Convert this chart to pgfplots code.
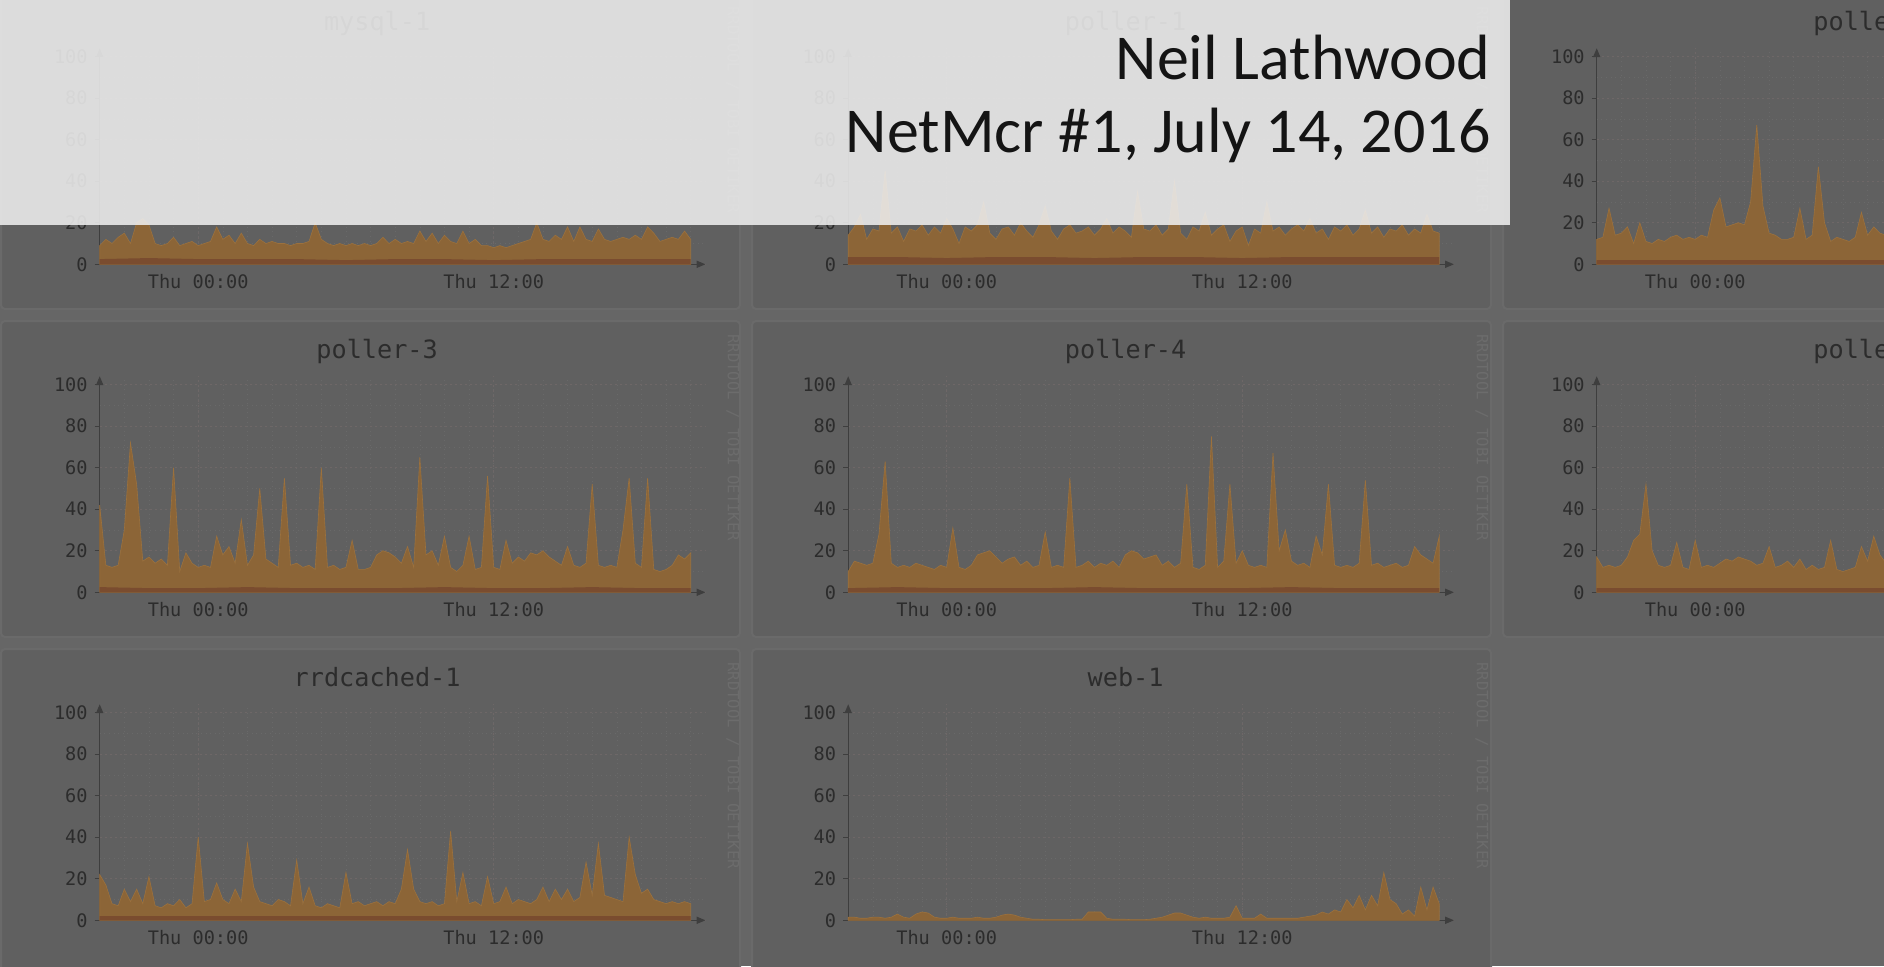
\documentclass[border=0pt]{standalone}
\usepackage{fontspec}
\setmainfont{Carlito}
\newfontfamily\rrd{DejaVu Sans Mono}
\usepackage{pgfplots}
\usepackage{pgfplotstable}
\pgfplotsset{compat=1.18}
\usetikzlibrary{arrows.meta}

\definecolor{slidebg}{HTML}{666666}
\definecolor{panelbg}{HTML}{606060}
\definecolor{panelrim}{HTML}{6A6A6A}
\definecolor{cpuarea}{HTML}{8C6537}
\definecolor{cpuedge}{HTML}{9C713D}
\definecolor{cpubase}{HTML}{7A4C2F}
\definecolor{ink}{HTML}{2C2C2C}
\definecolor{axisc}{HTML}{3E3E3E}
\definecolor{gridmaj}{HTML}{6E6767}
\definecolor{gridmin}{HTML}{696969}
\definecolor{wmark}{HTML}{6C6C6C}
\definecolor{banner}{HTML}{EEEEEE}

% CPU usage, one column per host, sampled every 15 minutes (hours from Thu 00:00)
\pgfplotstableread{
h     my  p1  p3  p4  rc  w1
-4    9   14  42  10  22  1.5
-3.75 12  18  13  15  17  1.5
-3.5  10  24  12  14  8   1
-3.25 13  12  13  13  7   1
-3    15  17  30  14  15  1.5
-2.75 10  16  72  28  9   1.5
-2.5  20  45  52  63  15  1
-2.25 22  15  15  14  8   1.5
-2    19  18  17  12  21  3
-1.75 10  11  14  13  7   1.5
-1.5  9   17  16  12  6   1
-1.25 10  16  13  14  8   3
-1    13  19  60  13  7   4
-0.75 9   14  10  12  10  3.5
-0.5  10  18  19  11  6   1.5
-0.25 11  15  14  13  8   1
0     9   22  12  12  40  1
0.25  10  17  13  31  9   1.5
0.5   11  10  12  12  10  1
0.75  18  18  27  11  18  1
1     12  16  18  13  10  1
1.25  14  19  22  18  8   1.5
1.5   10  30  14  19  15  1
1.75  15  15  35  20  9   1
2     10  12  13  17  37  1.5
2.25  9   17  18  14  16  2.5
2.5   12  18  50  16  9   3
2.75  10  14  16  17  8   2.5
3     11  20  14  13  7   1.5
3.25  10  16  12  15  10  1
3.5   10  13  55  12  9   0.5
3.75  9   19  13  13  7   0.5
4     10  28  14  29  29  0.3
4.25  10  16  12  12  8   0.3
4.5   11  12  13  13  16  0.3
4.75  20  17  11  12  7   0.3
5     12  19  60  55  6   0.3
5.25  10  15  12  12  8   0.5
5.5   9   16  13  13  7   0.5
5.75  10  18  11  15  6   4
6     9   14  12  12  23  4
6.25  10  17  25  14  8   4
6.5   9   22  11  13  9   1
6.75  10  15  11  15  7   0.5
7     9   18  12  12  8   0.5
7.25  10  16  18  18  9   0.5
7.5   13  13  20  20  7   0.3
7.75  10  35  19  19  9   0.3
8     12  17  17  16  8   0.3
8.25  10  16  14  17  15  0.5
8.5   11  19  22  18  34  1
8.75  10  14  12  13  15  1.5
9     16  17  65  15  9   2.5
9.25  11  40  18  12  8   3.5
9.5   15  15  20  14  9   3.5
9.75  10  12  13  52  7   2.5
10    14  18  27  12  8   1.5
10.25 11  16  12  11  43  1
10.5  10  25  10  13  9   1.5
10.75 16  14  13  75  23  1
11    10  17  27  12  8   1
11.25 12  19  11  15  9   1
11.5  9   11  12  52  7   1.5
11.75 9   16  56  14  21  7
12    8   18  12  20  8   1
12.25 9   9   11  13  9   1
12.5  8   17  25  12  16  1
12.75 9   15  14  13  8   3
13    10  30  17  12  10  1
13.25 11  16  15  67  9   1
13.5  12  18  19  20  8   1
13.75 20  14  18  30  10  1
14    12  17  20  15  16  1
14.25 11  19  17  13  9   1
14.5  14  16  15  14  15  1.5
14.75 12  22  13  12  10  2
15    18  15  22  27  15  2.5
15.25 11  17  13  18  9   4
15.5  18  12  12  52  11  3
15.75 12  18  14  13  28  5
16    11  16  52  12  12  4
16.25 17  19  13  13  37  10
16.5  12  14  12  12  12  6
16.75 11  17  13  14  11  12
17    12  26  12  54  10  5
17.25 13  15  30  13  9   12
17.5  12  18  55  14  40  7
17.75 14  13  14  12  22  23
18    12  17  12  13  13  10
18.25 18  16  55  14  15  8
18.5  15  19  11  12  10  3
18.75 11  14  10  13  9   5
19    12  17  11  22  8   2
19.25 13  15  13  18  9   16
19.5  12  24  18  16  8   5
19.75 16  16  16  14  9   16
20    12  15  19  27  8   8
}\daytab

% right-hand column is cut off by the slide, only the morning is visible
\pgfplotstableread{
h     p2  p5
-4    12  17
-3.75 13  12
-3.5  27  13
-3.25 14  12
-3    15  13
-2.75 18  17
-2.5  10  25
-2.25 20  28
-2    11  52
-1.75 10  20
-1.5  12  13
-1.25 11  12
-1    13  13
-0.75 14  24
-0.5  12  12
-0.25 13  11
0     12  25
0.25  14  12
0.5   13  13
0.75  26  12
1     32  14
1.25  18  16
1.5   19  15
1.75  20  17
2     19  16
2.25  30  15
2.5   67  13
2.75  28  14
3     15  22
3.25  14  12
3.5   12  13
3.75  12  15
4     13  12
4.25  27  16
4.5   12  11
4.75  14  13
5     47  11
5.25  20  12
5.5   11  25
5.75  13  11
6     12  10
6.25  11  11
6.5   13  12
6.75  25  22
7     14  15
7.25  18  27
7.5   15  18
7.75  14  14
8     16  13
8.25  13  15
8.5   15  14
}\morningtab

% system share (dark band at the bottom)
\pgfplotstableread{
h   my  p1  p2  p3  p4  p5  rc
-4  2.5 3.5 2   2.5 2   2   2
-2  3   3.5 2   2   2.5 2   2
0   2.5 3   2   2   2   2   2
2   2.5 3.5 2   2.5 2   2   2
4   2.5 3.5 2   2   2   2   2
6   2   3   2   2   2.5 2   2
8   2.5 3.5 2   2   2   2   2
10  2.5 3.5 2   2.5 2   2   2
12  2   3   2   2   2   2   2
14  2.5 3.5 2   2   2.5 2   2
16  2.5 3.5 2   2.5 2   2   2
18  2.5 3.5 2   2   2   2   2
20  2.5 3.5 2   2   2   2   2
}\systab

\pgfplotsset{
  rrdgraph/.style={
    scale only axis, width=302.9pt, height=108.05pt,
    anchor=south west,
    xmin=-4, xmax=20.6, ymin=0, ymax=104,
    axis x line*=bottom, axis y line*=left,
    axis line style={draw=axisc, line width=0.6pt, -{Triangle[length=4.5pt,width=3.6pt]}},
    xtick={0,12}, xticklabels={Thu 00:00,Thu 12:00},
    ytick={0,20,...,100},
    minor xtick={-3,-2,...,20}, minor ytick={10,30,50,70,90},
    grid=both,
    major grid style={draw=gridmaj, line width=0.4pt, dash pattern=on 1pt off 1.5pt},
    minor grid style={draw=gridmin, line width=0.3pt, dotted},
    tick align=outside, major tick length=2.5pt, minor tick length=0pt,
    xtick style={draw=none},
    ytick style={draw=axisc, line width=0.5pt},
    ticklabel style={font=\rrd\fontsize{9.3}{10}\selectfont, text=ink},
    /pgf/number format/assume math mode=true,
    xticklabel style={yshift=0.8pt},
    title style={font=\rrd\fontsize{12.6}{14}\selectfont, text=ink,
      at={(0.458,1.084)}, anchor=base, yshift=-6pt},
    clip=false,
  },
  cpu/.style={fill=cpuarea, draw=cpuedge, line width=0.3pt},
  sys/.style={fill=cpubase, draw=none},
}

\begin{document}
\begin{tikzpicture}
\useasboundingbox (0pt,0pt) rectangle (942pt,483pt);
\begin{scope}[x=0.5pt, y=0.5pt]
\clip (0,0) rectangle (1884,966);
\fill[slidebg] (0,0) rectangle (1884,966);

% graph tiles
\foreach \L in {1,752,1503} {
  \draw[panelrim, fill=panelbg, line width=1pt, rounded corners=2pt] (\L,657) rectangle (\L+739,975);
  \draw[panelrim, fill=panelbg, line width=1pt, rounded corners=2pt] (\L,329) rectangle (\L+739,645);
}
\foreach \L in {1,752} {
  \draw[panelrim, fill=panelbg, line width=1pt, rounded corners=2pt] (\L,-10) rectangle (\L+739,317);
}
\foreach \X in {733,1482} {
  \foreach \Y in {960,632,304} {
    \node[rotate=-90, anchor=west, inner sep=0pt, font=\rrd\fontsize{7.8}{8}\selectfont, text=wmark]
      at (\X,\Y) {RRDTOOL / TOBI OETIKER};
  }
}

% row 1
\begin{axis}[rrdgraph, at={(49.85pt,350.85pt)}, title={mysql-1}]
  \addplot[cpu] table[x=h, y=my] {\daytab} \closedcycle;
  \addplot[sys] table[x=h, y=my] {\systab} \closedcycle;
\end{axis}
\begin{axis}[rrdgraph, at={(424.1pt,350.85pt)}, title={poller-1}]
  \addplot[cpu] table[x=h, y=p1] {\daytab} \closedcycle;
  \addplot[sys] table[x=h, y=p1] {\systab} \closedcycle;
\end{axis}
\begin{axis}[rrdgraph, at={(798.35pt,350.85pt)}, title={poller-2}]
  \addplot[cpu] table[x=h, y=p2] {\morningtab} \closedcycle;
  \addplot[sys] table[x=h, y=p2] {\systab} \closedcycle;
\end{axis}

% row 2
\begin{axis}[rrdgraph, at={(49.85pt,186.85pt)}, title={poller-3}]
  \addplot[cpu] table[x=h, y=p3] {\daytab} \closedcycle;
  \addplot[sys] table[x=h, y=p3] {\systab} \closedcycle;
\end{axis}
\begin{axis}[rrdgraph, at={(424.1pt,186.85pt)}, title={poller-4}]
  \addplot[cpu] table[x=h, y=p4] {\daytab} \closedcycle;
  \addplot[sys] table[x=h, y=p4] {\systab} \closedcycle;
\end{axis}
\begin{axis}[rrdgraph, at={(798.35pt,186.85pt)}, title={poller-5}]
  \addplot[cpu] table[x=h, y=p5] {\morningtab} \closedcycle;
  \addplot[sys] table[x=h, y=p5] {\systab} \closedcycle;
\end{axis}

% row 3
\begin{axis}[rrdgraph, at={(49.85pt,22.85pt)}, title={rrdcached-1}]
  \addplot[cpu] table[x=h, y=rc] {\daytab} \closedcycle;
  \addplot[sys] table[x=h, y=rc] {\systab} \closedcycle;
\end{axis}
\begin{axis}[rrdgraph, at={(424.1pt,22.85pt)}, title={web-1}]
  \addplot[cpu] table[x=h, y=w1] {\daytab} \closedcycle;
\end{axis}

% title banner
\fill[banner, fill opacity=0.88] (0,741) rectangle (1510,970);
\node[anchor=base east, inner sep=0pt, font=\fontsize{32}{37}\selectfont, text=black!92]
  at (1491,886.7) {Neil Lathwood};
\node[anchor=base east, inner sep=0pt, font=\fontsize{32}{37}\selectfont, text=black!92]
  at (1491,813.4) {NetMcr \#1, July 14, 2016};
\end{scope}
\end{tikzpicture}
\end{document}
